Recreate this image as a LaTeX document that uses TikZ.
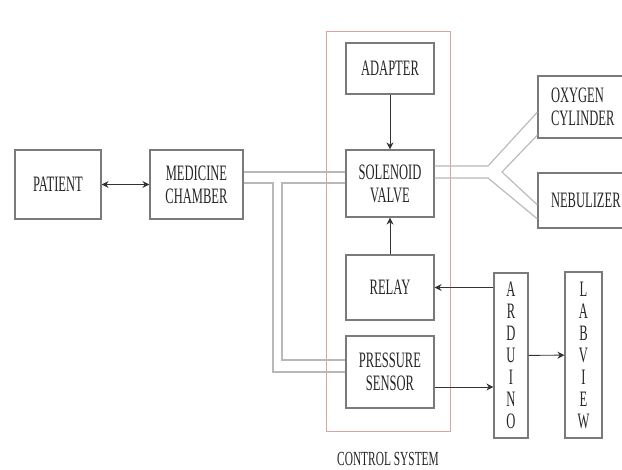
\documentclass[tikz,border=0pt]{standalone}
\usepackage{fontspec}
\setmainfont{Liberation Serif}[FakeStretch=0.57]
\usetikzlibrary{arrows.meta, positioning, calc}
\definecolor{boxgray}{HTML}{7A7A7A}
\definecolor{pipegray}{HTML}{B8B8B8}
\definecolor{ctrlred}{HTML}{DCA3A3}
\definecolor{textgray}{HTML}{262626}
\tikzset{%
  >={Stealth[width=3.5pt, length=3.5pt]}, % small filled heads
  % plain grey block, caption centred
  blockbox/.style={rectangle, draw=boxgray, line width=0.55pt, inner sep=0pt,
    align=center, text=textgray, font=\fontsize{11}{11.5}\selectfont},
  % caption flush left (these run off the right edge)
  leftbox/.style={blockbox, align=left, text width=38pt, inner xsep=6.5pt},
  % narrow box, one letter per line
  stackbox/.style={blockbox, font=\fontsize{11}{11}\selectfont},
  ctrlbox/.style={rectangle, draw=ctrlred, line width=0.5pt},
  pipeline/.style={draw=pipegray, line width=0.55pt},
  sigline/.style={draw=black!80, line width=0.45pt},
}
\begin{document}
\begin{tikzpicture}[x=0.5pt, y=-0.5pt]
  \useasboundingbox (0,0) rectangle (622,470);
  \clip (0,0) rectangle (622,470);
  \fill[white] (0,0) rectangle (622,470);
  % control system frame
  \draw[ctrlbox] (326,32) rectangle (450,432);
  \node[text=textgray, font=\fontsize{10}{10}\selectfont] (ctrllabel) at (388,459) {CONTROL SYSTEM};
  % blocks
  \node[blockbox, minimum width=43pt, minimum height=34.5pt] (patient) at (58,184.5) {PATIENT};
  \node[blockbox, minimum width=46.5pt, minimum height=34.5pt] (medicine) at (196.5,184.5) {MEDICINE\\CHAMBER};
  \node[blockbox, minimum width=44pt, minimum height=25.5pt] (adapter) at (390,68.5) {ADAPTER};
  \node[blockbox, minimum width=44pt, minimum height=33.5pt] (solenoid) at (390,183.5) {SOLENOID\\VALVE};
  \node[blockbox, minimum width=44pt, minimum height=32.5pt] (relay) at (390,287.5) {RELAY};
  \node[blockbox, minimum width=44pt, minimum height=36pt] (sensor) at (390,372) {PRESSURE\\SENSOR};
  \node[leftbox, minimum height=31pt] (oxygen) at (589,107) {OXYGEN\\CYLINDER};
  \node[leftbox, minimum height=27.5pt] (nebulizer) at (589,200.5) {NEBULIZER};
  \node[stackbox, minimum width=17pt, minimum height=82.5pt] (arduino) at (511,355.5) {A\\R\\D\\U\\I\\N\\O};
  \node[stackbox, minimum width=18.5pt, minimum height=83pt] (labview) at (583.5,355) {L\\A\\B\\V\\I\\E\\W};

  % pipes from the chamber
  \coordinate (mup) at (0,172); \coordinate (mlow) at (0,183);
  \coordinate (ptop) at (0,360); \coordinate (pbot) at (0,372);
  \draw[pipeline] (medicine.east |- mup) -- (solenoid.west |- mup);
  \draw[pipeline] (medicine.east |- mlow) -- (273,183) -- (273,372) -- (sensor.west |- pbot);
  \draw[pipeline] (solenoid.west |- mlow) -- (282,183) -- (282,360) -- (sensor.west |- ptop);
  % Y branch to cylinder and nebulizer
  \coordinate (yup) at (488,166); \coordinate (ylow) at (488,178); \coordinate (yfork) at (502,172);
  \draw[pipeline] (solenoid.east |- yup) -- (yup) -- ([yshift=-2.5pt]oxygen.west);
  \draw[pipeline] (solenoid.east |- ylow) -- (ylow) -- ([yshift=-9.25pt]nebulizer.west);
  \draw[pipeline] ([yshift=-14pt]oxygen.west) -- (yfork) -- ([yshift=-2.25pt]nebulizer.west);

  % signals
  \draw[sigline, <->] (patient) -- (medicine);
  \draw[sigline, ->] (adapter) -- (solenoid);
  \draw[sigline, ->] (relay.north) -- (relay.north |- solenoid.south);
  \draw[sigline, ->] (arduino.west |- relay.east) -- (relay.east);
  \coordinate (sout) at ([yshift=-7.5pt]sensor.east);
  \draw[sigline, ->] (sout) -- (sout -| arduino.west);
  \draw[sigline, ->] (arduino) -- (labview);
\end{tikzpicture}
\end{document}
